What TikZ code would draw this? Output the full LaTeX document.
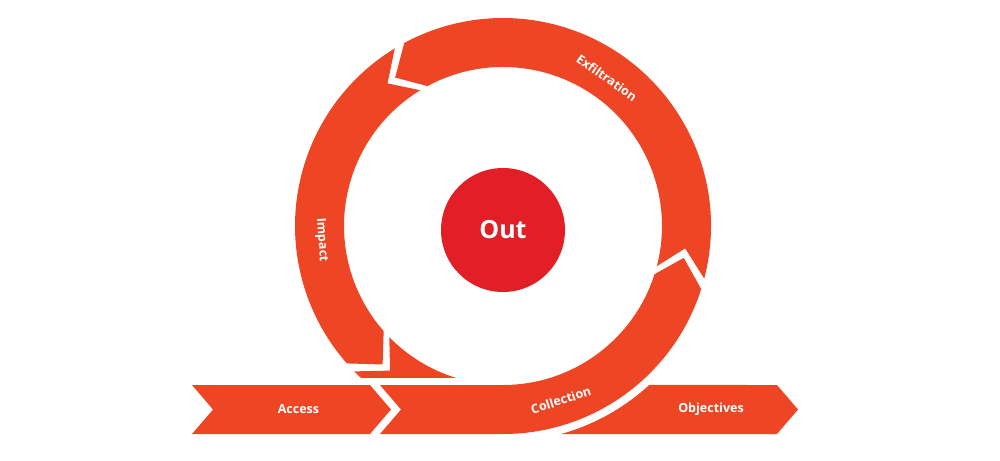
\documentclass[tikz,border=0pt]{standalone}
\usepackage{fontspec}
\setmainfont{Open Sans}
\definecolor{ringred}{RGB}{238,70,36}
\definecolor{corered}{RGB}{226,31,38}
\tikzset{
  seg/.style={fill=ringred, draw=none},
  lab/.style={text=white, inner sep=0pt, font=\bfseries\fontsize{12.5}{14}\selectfont},
  corestyle/.style={circle, fill=corered, minimum size=124pt, inner sep=0pt, text=white, font=\bfseries\fontsize{25}{28}\selectfont}
}
\begin{document}
\begin{tikzpicture}[x=1pt,y=1pt]
\useasboundingbox (-503,-234) rectangle (497,226);
% Access arrow
\fill[seg] (-311,-159) -- (-133,-159) -- (-112,-183.5) -- (-133,-208) -- (-311,-208) -- (-290,-183.5) -- cycle;
% Objectives arrow
\fill[seg] (274,-159) -- (295,-183.5) -- (274,-208) -- (-74.4:216pt) arc[start angle=-74.4, end angle=-47.4, radius=216pt] -- cycle;
% Collection: bar + lower right ring part
\fill[seg] (-123,-159) -- (-102,-183.5) -- (-123,-208) -- (0,-208)
  arc[start angle=-90, end angle=-17.65, radius=208pt] -- (-10:183.5pt) -- (-17.65:159pt)
  arc[start angle=-17.65, end angle=-90, radius=159pt] -- cycle;
% Collection ring tail (clipped above the bar)
\begin{scope}
\clip (-400,-151) rectangle (100,0);
\fill[seg] (224.35:208pt) arc[start angle=224.35, end angle=270, radius=208pt] -- (270:159pt)
  arc[start angle=270, end angle=224.35, radius=159pt] -- (232:183.5pt) -- cycle;
\end{scope}
% Exfiltration
\fill[seg] (-14.65:208pt) arc[start angle=-14.65, end angle=118.35, radius=208pt] -- (126:183.5pt) -- (118.35:159pt)
  arc[start angle=118.35, end angle=-14.65, radius=159pt] -- (-7:183.5pt) -- cycle;
% Impact
\fill[seg] (121.35:208pt) arc[start angle=121.35, end angle=221.35, radius=208pt] -- (229:183.5pt) -- (221.35:159pt)
  arc[start angle=221.35, end angle=121.35, radius=159pt] -- (129:183.5pt) -- cycle;
% Center
\node[corestyle] (out) at (0,-4) {Out};
% Labels
\node[lab] (access) at (-204.5,-183.5) {Access};
\node[lab] (objectives) at (208,-183.5) {Objectives};
\node[lab, rotate=18] (collection) at (-71.6:183.5pt) {Collection};
\node[lab, rotate=-35] (exfiltration) at (55:181pt) {Exfiltration};
\node[lab, rotate=-86] (impact) at (184.4:182pt) {Impact};
\end{tikzpicture}
\end{document}
